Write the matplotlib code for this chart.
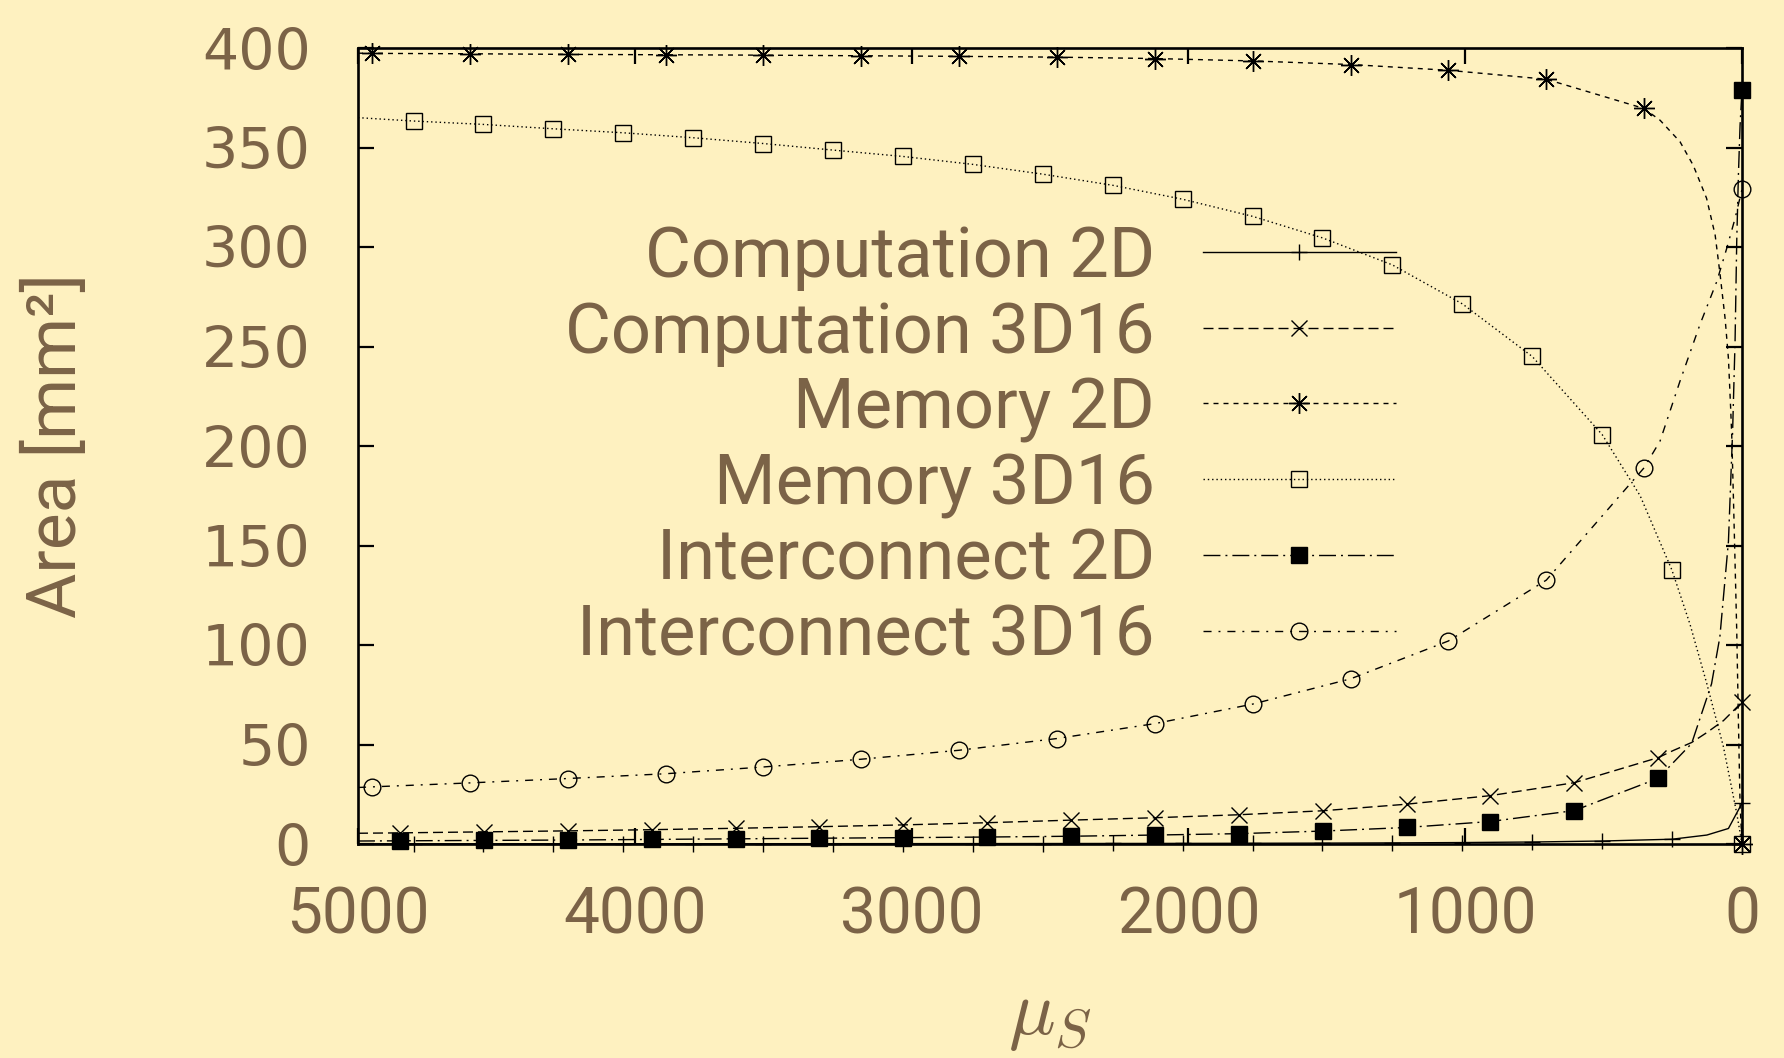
import matplotlib
matplotlib.use('Agg')
import matplotlib.pyplot as plt
from matplotlib.lines import Line2D
import numpy as np

plt.rcParams['mathtext.fontset'] = 'cm'
plt.rcParams['lines.scale_dashes'] = False

BG = '#fef1c0'
TXT = '#7b6347'

# ---------------- data ----------------
labels = ['Computation 2D', 'Computation 3D16', 'Memory 2D',
          'Memory 3D16', 'Interconnect 2D', 'Interconnect 3D16']

xticks = [5000, 4000, 3000, 2000, 1000, 0]
xticklabels = ['5000', '4000', '3000', '2000', '1000', '0']
yticks = [0, 50, 100, 150, 200, 250, 300, 350, 400]
yticklabels = ['0', '50', '100', '150', '200', '250', '300', '350', '400']

# Computation 2D (marked points)
comp2d_x = [4799, 4547, 4294, 4042, 3789, 3536, 3284, 3031, 2778, 2526,
            2273, 2021, 1768, 1516, 1263, 1010, 758, 505, 253, 0]
comp2d_y = [0.10, 0.11, 0.12, 0.13, 0.14, 0.16, 0.17, 0.19, 0.21, 0.24,
            0.27, 0.31, 0.37, 0.45, 0.56, 0.73, 1.0, 1.5, 2.4, 20.5]
# extra (unmarked) curve samples
comp2d_xe = [5000, 127, 49]
comp2d_ye = [0.10, 4.5, 7.8]

# Computation 3D16
comp3d_x = [4848, 4545, 4242, 3939, 3636, 3333, 3030, 2727, 2424, 2121,
            1818, 1515, 1212, 909, 606, 303, 0]
comp3d_y = [5.6, 6.1, 6.6, 7.2, 7.9, 8.7, 9.6, 10.7, 12.0, 13.2,
            14.7, 16.7, 20.0, 24.3, 30.8, 43.4, 71.3]
comp3d_xe = [5000, 248, 182, 127, 67]
comp3d_ye = [5.4, 47.0, 51.0, 56.0, 62.0]

# Memory 2D
mem2d_x = [4950, 4596, 4243, 3889, 3536, 3182, 2829, 2475, 2121, 1768,
           1414, 1061, 707, 354, 0]
mem2d_y = [397.3, 397.1, 396.8, 396.6, 396.4, 396.1, 395.8, 395.4, 394.7, 393.5,
           391.7, 388.8, 384.3, 369.6, 0]
mem2d_xe = [5000, 296, 224, 176, 128, 97, 79, 61, 49, 41, 37, 31, 25, 19, 13, 7]
mem2d_ye = [397.4, 363.7, 352.9, 341.0, 324.5, 306.0, 286.0, 264.0, 244.0,
            219.0, 205.0, 174.0, 141.0, 107.0, 62.0, 20.0]

# Memory 3D16
mem3d_x = [4799, 4547, 4294, 4042, 3789, 3536, 3284, 3031, 2778, 2526,
           2273, 2021, 1768, 1516, 1263, 1010, 758, 505, 253, 0]
mem3d_y = [363.3, 361.6, 359.4, 357.4, 354.9, 352.0, 348.7, 345.5, 341.5, 336.6,
           331.0, 324.0, 315.4, 304.6, 291.0, 271.4, 245.0, 205.7, 137.6, 0]
mem3d_xe = [5000, 368, 188, 127, 67, 19]
mem3d_ye = [365.0, 175.0, 110.5, 80.5, 48.8, 15.4]

# Interconnect 2D
ic2d_x = [4848, 4545, 4242, 3939, 3636, 3333, 3030, 2727, 2424, 2121,
          1818, 1515, 1212, 909, 606, 303, 0]
ic2d_y = [1.6, 1.8, 2.0, 2.3, 2.6, 2.9, 3.2, 3.5, 3.9, 4.5,
          5.2, 6.5, 8.3, 11.3, 16.8, 33.0, 379.0]
ic2d_xe = [5000, 182, 110, 80, 49, 34, 25, 19, 13, 7]
ic2d_ye = [1.5, 50.5, 80.5, 104.0, 152.0, 207.0, 253.0, 303.0, 336.0, 361.0]

# Interconnect 3D16
ic3d_x = [4950, 4596, 4243, 3889, 3536, 3182, 2829, 2475, 2121, 1768,
          1414, 1061, 707, 354, 0]
ic3d_y = [28.7, 30.7, 32.9, 35.3, 38.7, 42.6, 47.1, 53.0, 60.5, 70.3,
          83.0, 102.0, 132.6, 189.0, 329.0]
ic3d_xe = [5000, 296, 224, 152, 91, 55, 25]
ic3d_ye = [28.4, 202.5, 232.6, 261.0, 282.7, 299.4, 314.4]

series = [
    (comp2d_x, comp2d_y, comp2d_xe, comp2d_ye),
    (comp3d_x, comp3d_y, comp3d_xe, comp3d_ye),
    (mem2d_x, mem2d_y, mem2d_xe, mem2d_ye),
    (mem3d_x, mem3d_y, mem3d_xe, mem3d_ye),
    (ic2d_x, ic2d_y, ic2d_xe, ic2d_ye),
    (ic3d_x, ic3d_y, ic3d_xe, ic3d_ye),
]

# ---------------- styles ----------------
styles = [
    dict(ls='-', marker='+', mfc='black', ms=12),
    dict(ls=(0, (7.2, 3.6)), marker='x', mfc='black', ms=12),
    dict(ls=(0, (3.6, 3.6)), marker=(8, 2, 0), mfc='black', ms=15),
    dict(ls=(0, (1.0, 2.1)), marker='s', mfc='none', ms=12),
    dict(ls=(0, (12.2, 3.6, 1.4, 3.6)), marker='s', mfc='black', ms=12),
    dict(ls=(0, (5.8, 5.0, 1.4, 5.0)), marker='o', mfc='none', ms=12),
]
LW = 1.0
MEW = 1.0

fig = plt.figure(figsize=(17.84, 10.58), dpi=100, facecolor=BG)
ax = fig.add_axes([358 / 1784, 1 - 844 / 1058, (1742 - 358) / 1784, (844 - 48) / 1058])
ax.set_facecolor(BG)

handles = []
for (mx, my, ex, ey), st, lab in zip(series, styles, labels):
    xs = np.array(list(mx) + list(ex), dtype=float)
    ys = np.array(list(my) + list(ey), dtype=float)
    is_mark = np.array([True] * len(mx) + [False] * len(ex))
    order = np.argsort(-xs, kind='stable')
    xs, ys, is_mark = xs[order], ys[order], is_mark[order]
    ax.plot(xs, ys, color='black', lw=LW, ls=st['ls'], marker=st['marker'],
            markevery=list(is_mark), ms=st['ms'], mew=MEW, mec='black', mfc=st['mfc'],
            clip_on=False, zorder=3)
    handles.append(Line2D([], [], color='black', lw=LW, ls=st['ls'],
                          marker=st['marker'], ms=st['ms'], mew=MEW, mec='black',
                          mfc=st['mfc']))

ax.set_xlim(5000, 0)
ax.set_ylim(0, 400)

ax.set_xticks(xticks, labels=xticklabels, fontfamily='Roboto', fontsize=46, color=TXT)
ax.set_yticks(yticks, labels=yticklabels, fontfamily='DejaVu Sans', fontsize=41, color=TXT)
ax.tick_params(axis='both', which='major', direction='in', length=11.5, width=1.6,
               color='black', top=True, right=True)
ax.tick_params(axis='x', pad=29)
ax.tick_params(axis='y', pad=34)
ax.minorticks_off()

for sp in ax.spines.values():
    sp.set_linewidth(1.9)
    sp.set_color('black')
    sp.set_zorder(4)

ax.set_xlabel('$\\mu_S$', fontsize=56, color=TXT)
ax.xaxis.set_label_coords(0.5, (24 - 214) / 796)
ax.xaxis.label.set_va('baseline')

ax.set_ylabel('Area [mm²]', fontfamily='Roboto', fontsize=50, color=TXT)
ax.yaxis.set_label_coords((57 - 358) / 1384, 0.5)
ax.yaxis.label.set_va('center')

leg = ax.legend(handles, labels, loc='center right', bbox_to_anchor=(0.75, 0.499),
                markerfirst=False, frameon=False, numpoints=1,
                prop={'family': 'Roboto', 'size': 50.8},
                handlelength=2.74, handletextpad=0.68, labelspacing=0.12,
                borderpad=0, borderaxespad=0)
for t in leg.get_texts():
    t.set_color(TXT)

fig.savefig('out.png', dpi=100, facecolor=BG)
